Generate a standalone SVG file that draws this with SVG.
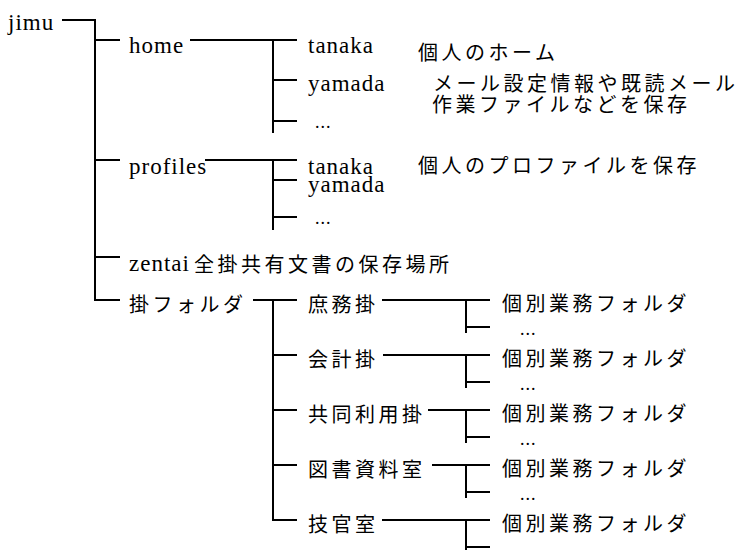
<svg xmlns="http://www.w3.org/2000/svg" width="743" height="550" viewBox="0 0 743 550">
<style>
.lat{font-family:"Liberation Serif","Times New Roman",serif;font-size:23px;letter-spacing:1px;fill:#000}
.dot{font-family:"Liberation Serif","Times New Roman",serif;font-size:18px;letter-spacing:1px;fill:#000}
.jp{font-family:"Noto Sans CJK JP","Noto Sans",sans-serif;font-size:20px;letter-spacing:3.5px;fill:#000}
.ln{fill:none;stroke:#000;stroke-width:2}
</style>
<rect width="743" height="550" fill="#fff"/>
<g id="connectors" class="ln">
<path d="M62,20 H95 V300 H120"/>
<path d="M95,40 H120 M95,160 H120 M95,257 H120"/>
<path d="M190,40 H297 M273,40 V133 M273,80 H297 M273,121 H297"/>
<path d="M205,160 H297 M273,160 V230 M273,180 H297 M273,217 H297"/>
<path d="M253,300 H297 M273,300 V520 H297 M273,355 H297 M273,410 H297 M273,465 H297"/>
<path d="M382,300 H490 M466,300 V333 M466,327 H490"/>
<path d="M383,355 H490 M466,355 V388 M466,382 H490"/>
<path d="M428,410 H490 M466,410 V443 M466,437 H490"/>
<path d="M432,465 H490 M466,465 V498 M466,492 H490"/>
<path d="M382,520 H490 M466,520 V551 M466,547 H490"/>
</g>
<g id="jimu"><text class="lat" x="8" y="30">jimu</text></g>
<g id="home"><text class="lat" x="129" y="53">home</text></g>
<g id="home-tanaka"><text class="lat" x="308" y="53">tanaka</text></g>
<g id="home-yamada"><text class="lat" x="308" y="91">yamada</text></g>
<g id="home-etc"><text class="dot" x="315" y="128">...</text></g>
<g id="home-note">
<text class="jp" x="418" y="60">個人のホーム</text>
<text class="jp" x="433" y="91">メール設定情報や既読メール</text>
<text class="jp" x="432" y="112">作業ファイルなどを保存</text>
</g>
<g id="profiles"><text class="lat" x="129" y="174" letter-spacing="0">profiles</text></g>
<g id="profiles-tanaka"><text class="lat" x="308" y="174">tanaka</text></g>
<g id="profiles-yamada"><text class="lat" x="308" y="192">yamada</text></g>
<g id="profiles-etc"><text class="dot" x="315" y="224">...</text></g>
<g id="profiles-note"><text class="jp" x="418" y="173">個人のプロファイルを保存</text></g>
<g id="zentai"><text class="lat" x="129" y="271" letter-spacing="0">zentai</text><text class="jp" x="194" y="272">全掛共有文書の保存場所</text></g>
<g id="kakari-folder"><text class="jp" x="129" y="312">掛フォルダ</text></g>
<g id="shomu"><text class="jp" x="308" y="312">庶務掛</text></g>
<g id="shomu-folder"><text class="jp" x="502" y="311">個別業務フォルダ</text><text class="dot" x="520" y="335">...</text></g>
<g id="kaikei"><text class="jp" x="308" y="367">会計掛</text></g>
<g id="kaikei-folder"><text class="jp" x="502" y="366">個別業務フォルダ</text><text class="dot" x="520" y="390">...</text></g>
<g id="kyodo"><text class="jp" x="308" y="422">共同利用掛</text></g>
<g id="kyodo-folder"><text class="jp" x="502" y="421">個別業務フォルダ</text><text class="dot" x="520" y="445">...</text></g>
<g id="tosho"><text class="jp" x="308" y="477">図書資料室</text></g>
<g id="tosho-folder"><text class="jp" x="502" y="476">個別業務フォルダ</text><text class="dot" x="520" y="500">...</text></g>
<g id="gikan"><text class="jp" x="308" y="532">技官室</text></g>
<g id="gikan-folder"><text class="jp" x="502" y="531">個別業務フォルダ</text></g>
</svg>
